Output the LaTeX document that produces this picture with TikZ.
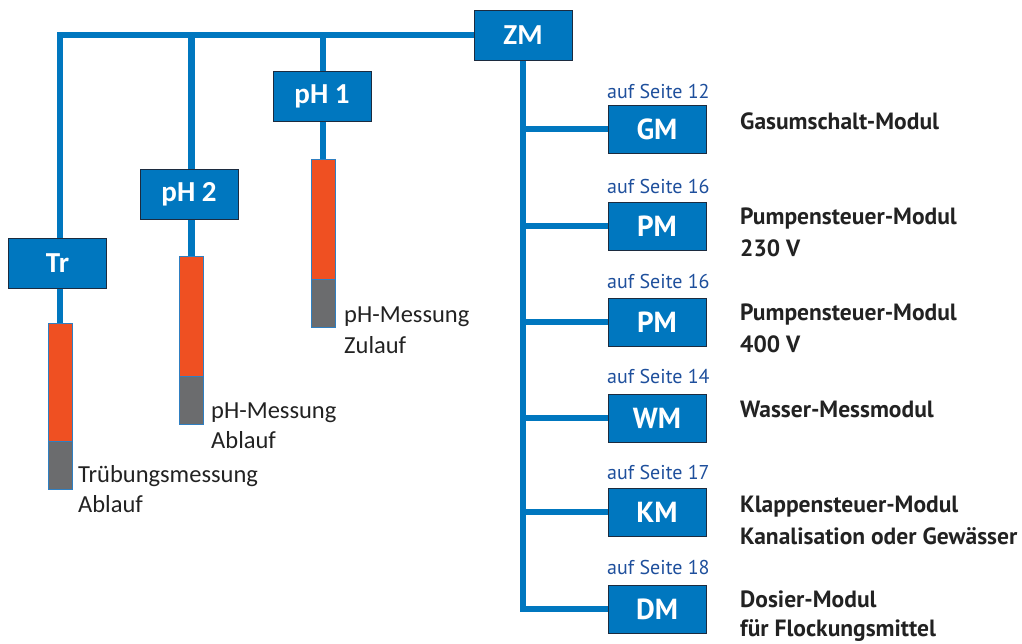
\documentclass[tikz,border=0pt]{standalone}
\usepackage{fontspec}
\setmainfont{Carlito}
\newfontfamily\frut{PT Sans}
\usetikzlibrary{backgrounds}
\definecolor{zblue}{HTML}{0077BF}
\definecolor{zedge}{HTML}{1C2B3F}
\definecolor{sorange}{HTML}{EF5022}
\definecolor{sgray}{HTML}{6B6C6E}
\definecolor{sedge}{HTML}{2F7FC1}
\definecolor{pageblue}{HTML}{1E4F9C}
\definecolor{txt}{HTML}{222222}
\begin{document}
\begin{tikzpicture}[x=1pt,y=-1pt,
  bus/.style={draw=zblue,line width=6.5pt},
  modbox/.style={rectangle,fill=zblue,draw=zedge,line width=0.9pt,minimum width=98pt,minimum height=50pt,inner sep=0pt,text=white,font=\fontsize{29}{30}\selectfont\bfseries},
  rbox/.style={modbox,minimum height=48pt,font=\frut\fontsize{29}{30}\selectfont\bfseries},
  senso/.style={rectangle,draw=sedge,fill=sorange,line width=1pt,minimum width=24pt,inner sep=0pt},
  sensg/.style={rectangle,draw=sedge,fill=sgray,line width=1pt,minimum width=24pt,minimum height=48pt,inner sep=0pt},
  lab/.style={anchor=base west,inner sep=0pt,text=txt,font=\fontsize{24.5}{26}\selectfont},
  page/.style={anchor=base west,inner sep=0pt,text=pageblue,font=\frut\fontsize{20}{24}\selectfont},
  desc/.style={anchor=base west,inner sep=0pt,text=txt,font=\frut\fontsize{23.5}{26}\selectfont\bfseries}
]
\useasboundingbox (0,0) rectangle (1022,643);

% top boxes
\node[modbox] (zm) at (523,35) {ZM};
\node[modbox] (ph1) at (322,96) {pH 1};
\node[modbox] (ph2) at (189,194.5) {pH 2};
\node[modbox] (tr) at (57.5,263) {Tr};

% sensors
\node[senso,minimum height=120pt] (s1o) at (323,219) {};
\node[sensg] (s1g) at (323,303) {};
\node[senso,minimum height=120pt] (s2o) at (191.5,316) {};
\node[sensg] (s2g) at (191.5,400) {};
\node[senso,minimum height=118pt] (s3o) at (60,382) {};
\node[sensg] (s3g) at (60,465) {};

% right boxes
\node[rbox] (gm) at (657,129) {GM};
\node[rbox] (pm1) at (657,226) {PM};
\node[rbox] (pm2) at (657,322) {PM};
\node[rbox] (wm) at (657,418) {WM};
\node[rbox] (km) at (657,512) {KM};
\node[rbox] (dm) at (657,609) {DM};

\begin{scope}[on background layer]
\draw[bus] (s3o.north) |- (zm.west);
\draw[bus] (s2o.north) -- (s2o.north |- zm.west);
\draw[bus] (s1o.north) -- (s1o.north |- zm.west);
\draw[bus] (zm.south) |- (dm.west);
\draw[bus] (zm.south |- gm.west) -- (gm.west);
\draw[bus] (zm.south |- pm1.west) -- (pm1.west);
\draw[bus] (zm.south |- pm2.west) -- (pm2.west);
\draw[bus] (zm.south |- wm.west) -- (wm.west);
\draw[bus] (zm.south |- km.west) -- (km.west);
\end{scope}

% sensor labels
\node[lab] (l1a) at (344,322) {pH-Messung};
\node[lab] (l1b) at (344,353) {Zulauf};
\node[lab] (l2a) at (211,418) {pH-Messung};
\node[lab] (l2b) at (211,448) {Ablauf};
\node[lab] (l3a) at (78,482) {Trübungsmessung};
\node[lab] (l3b) at (78,512) {Ablauf};

% page refs
\node[page] (p1) at (607,98) {auf Seite 12};
\node[page] (p2) at (607,193) {auf Seite 16};
\node[page] (p3) at (607,288) {auf Seite 16};
\node[page] (p4) at (607,383) {auf Seite 14};
\node[page] (p5) at (607,479) {auf Seite 17};
\node[page] (p6) at (607,574) {auf Seite 18};

% descriptions
\node[desc] (d1) at (740,129) {Gasumschalt-Modul};
\node[desc] (d2a) at (740,224) {Pumpensteuer-Modul};
\node[desc] (d2b) at (740,256) {230 V};
\node[desc] (d3a) at (740,320) {Pumpensteuer-Modul};
\node[desc] (d3b) at (740,352) {400 V};
\node[desc] (d4) at (740,417) {Wasser-Messmodul};
\node[desc] (d5a) at (740,512) {Klappensteuer-Modul};
\node[desc] (d5b) at (740,544) {Kanalisation oder Gewässer};
\node[desc] (d6a) at (740,607) {Dosier-Modul};
\node[desc] (d6b) at (740,636) {für Flockungsmittel};
\end{tikzpicture}
\end{document}
